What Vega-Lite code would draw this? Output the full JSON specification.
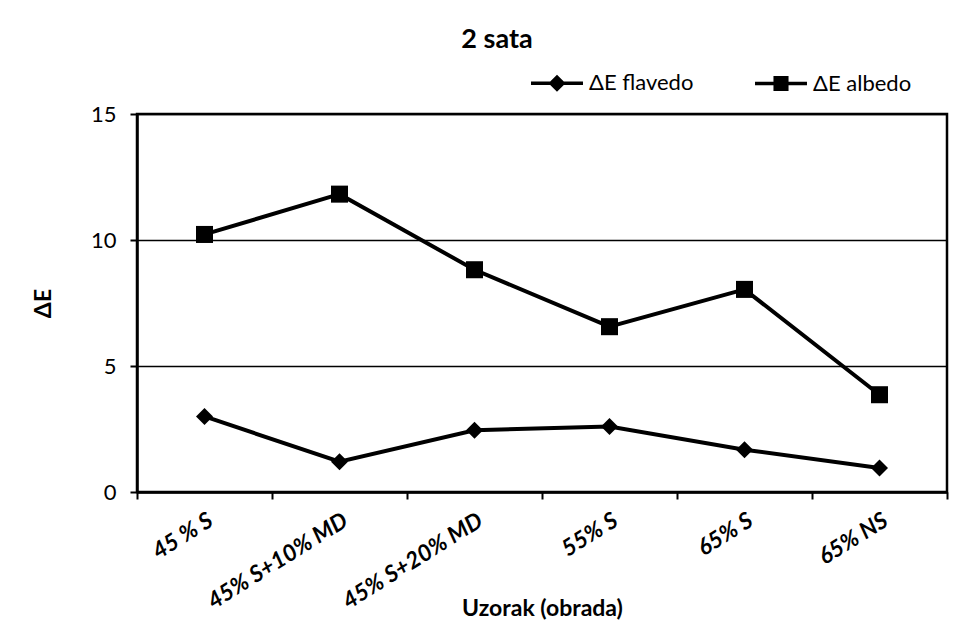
{
  "$schema": "https://vega.github.io/schema/vega-lite/v6.json",
  "width": 810,
  "height": 378,
  "autosize": {"type": "none"},
  "padding": {"left": 137, "top": 114, "right": 12, "bottom": 144},
  "background": "white",
  "config": {
    "font": "Lato",
    "view": {"stroke": "black", "strokeWidth": 2.5},
    "axis": {
      "domainColor": "black",
      "domainWidth": 2.5,
      "tickColor": "black",
      "tickWidth": 2,
      "tickSize": 7,
      "labelColor": "black",
      "titleColor": "black",
      "labelFont": "Lato",
      "titleFont": "Lato"
    }
  },
  "title": {
    "text": "2 sata",
    "fontSize": 27,
    "fontWeight": "bold",
    "color": "black",
    "anchor": "middle",
    "offset": 2,
    "dx": -45
  },
  "data": {
    "values": [
      {"sample": "45 % S", "series": "ΔE flavedo", "value": 3.0},
      {"sample": "45% S+10% MD", "series": "ΔE flavedo", "value": 1.2},
      {"sample": "45% S+20% MD", "series": "ΔE flavedo", "value": 2.45},
      {"sample": "55% S", "series": "ΔE flavedo", "value": 2.6},
      {"sample": "65% S", "series": "ΔE flavedo", "value": 1.68},
      {"sample": "65% NS", "series": "ΔE flavedo", "value": 0.95},
      {"sample": "45 % S", "series": "ΔE albedo", "value": 10.22},
      {"sample": "45% S+10% MD", "series": "ΔE albedo", "value": 11.82},
      {"sample": "45% S+20% MD", "series": "ΔE albedo", "value": 8.82},
      {"sample": "55% S", "series": "ΔE albedo", "value": 6.56},
      {"sample": "65% S", "series": "ΔE albedo", "value": 8.04},
      {"sample": "65% NS", "series": "ΔE albedo", "value": 3.86}
    ]
  },
  "encoding": {
    "x": {
      "field": "sample",
      "type": "nominal",
      "sort": null,
      "scale": {"type": "band", "paddingInner": 0, "paddingOuter": 0},
      "axis": {
        "title": "Uzorak (obrada)",
        "titleFontSize": 23,
        "titleFontWeight": "bold",
        "titleY": 116,
        "titleBaseline": "middle",
        "labelAngle": -32,
        "labelFontSize": 23,
        "labelFontWeight": "bold",
        "labelFontStyle": "italic",
        "labelPadding": 10,
        "tickBand": "extent",
        "grid": false
      }
    },
    "y": {
      "field": "value",
      "type": "quantitative",
      "scale": {"domain": [0, 15]},
      "axis": {
        "title": "ΔE",
        "titleFontSize": 23,
        "titleFontWeight": "bold",
        "titleX": -94,
        "titleBaseline": "middle",
        "values": [0, 5, 10, 15],
        "labelFontSize": 22,
        "labelPadding": 14,
        "grid": true,
        "gridColor": "black",
        "gridWidth": 1.6,
        "gridOpacity": 1
      }
    }
  },
  "layer": [
    {
      "mark": {"type": "line", "color": "black", "strokeWidth": 4},
      "encoding": {"detail": {"field": "series"}}
    },
    {
      "mark": {"type": "point", "filled": true, "color": "black", "opacity": 1, "size": 290},
      "encoding": {
        "shape": {
          "field": "series",
          "type": "nominal",
          "scale": {"domain": ["ΔE flavedo", "ΔE albedo"], "range": ["diamond", "square"]},
          "legend": null
        }
      }
    },
    {
      "mark": {"type": "point", "filled": true, "color": "black", "opacity": 0},
      "encoding": {
        "shape": {
          "field": "series",
          "type": "nominal",
          "scale": {
            "domain": ["ΔE flavedo", "ΔE albedo"],
            "range": [
              "M-1,-0.065H1V0.065H-1ZM0,-0.33L0.33,0L0,0.33L-0.33,0Z",
              "M-1,-0.065H1V0.065H-1ZM-0.29,-0.29H0.29V0.29H-0.29Z"
            ]
          },
          "legend": {
            "title": null,
            "orient": "none",
            "legendX": 393,
            "legendY": -58,
            "direction": "horizontal",
            "symbolSize": 2700,
            "labelFontSize": 22,
            "labelColor": "black",
            "labelOffset": 5,
            "columnPadding": 58,
            "encode": {
              "symbols": {
                "update": {
                  "fill": {"value": "black"},
                  "opacity": {"value": 1},
                  "fillOpacity": {"value": 1}
                }
              }
            }
          }
        }
      }
    }
  ],
  "resolve": {"scale": {"shape": "independent"}, "legend": {"shape": "independent"}}
}
